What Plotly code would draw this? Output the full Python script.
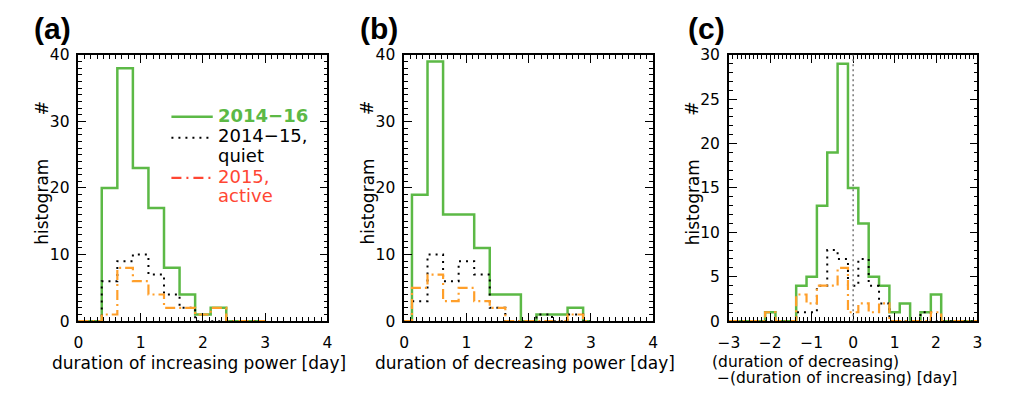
import plotly.graph_objects as go

# ---------------- data ----------------
x_ab = [0, 0.25, 0.5, 0.75, 1.0, 1.25, 1.5, 1.75, 2.0, 2.25, 2.5, 2.75, 3.0]
green_a = [0, 0, 20, 38, 23, 17, 8, 4, 1, 2, 0, 0, 0]
black_a = [0, 0, 6, 9, 10, 7, 4, 2, 0, 0, 0, 0, 0]
orange_a = [0, 0, 1, 8, 6, 4, 2, 2, 1, 2, 0, 0, 0]

green_b = [0, 19, 39, 16, 16, 11, 4, 4, 0, 1, 1, 2, 0]
black_b = [0, 3, 10, 6, 9, 7, 2, 0, 0, 1, 0, 1, 0]
orange_b = [0, 5, 7, 3, 5, 3, 2, 0, 0, 0, 0, 1, 0]

x_c = [-3, -2.75, -2.5, -2.25, -2, -1.75, -1.5, -1.25, -1, -0.75, -0.5, -0.25, 0,
       0.25, 0.5, 0.75, 1, 1.25, 1.5, 1.75, 2, 2.25, 2.5, 2.75, 3]
green_c = [0, 0, 0, 0, 1, 0, 0, 4, 5, 13, 19, 29, 15, 11, 5, 4, 1, 2, 0, 1, 3, 0, 0, 0, 0]
black_c = [0, 0, 0, 0, 0, 0, 0, 1, 1, 4, 8, 7, 4, 7, 4, 2, 0, 0, 0, 1, 0, 0, 0, 0, 0]
orange_c = [0, 0, 0, 0, 1, 0, 0, 3, 2, 4, 4, 6, 1, 2, 1, 2, 0, 0, 0, 0, 1, 0, 0, 0, 0]

series_names = ["2014\u221216", "2014\u221215, quiet", "2015, active"]
panel_labels = ["(a)", "(b)", "(c)"]
xtitles = ["duration of increasing power [day]", "duration of decreasing power [day]"]
xtitle_c = ["(duration of decreasing)", "\u2212(duration of increasing) [day]"]

x_ranges = [[0, 4], [0, 4], [-3, 3]]
y_ranges = [[0, 40], [0, 40], [0, 30]]
y_major = [10, 10, 5]

# ---------------- style ----------------
W, H = 1010, 396
GREEN = "#5cb946"
ORANGE = "#ff9f2a"
RED = "#ff4633"
FONT = "DejaVu Sans"

def px(x):
    return x / W

def py(y):
    return 1 - y / H

frames = [(68.5, 321.5), (399.5, 652.5), (729.4, 982.0)]
ytop, ybot = 48.0, 327.0

fig = go.Figure()

panels = [
    (x_ab, green_a, black_a, orange_a, "x", "y"),
    (x_ab, green_b, black_b, orange_b, "x2", "y2"),
    (x_c, green_c, black_c, orange_c, "x3", "y3"),
]
for xs, g, k, o, xa, ya in panels:
    fig.add_trace(go.Scatter(x=xs, y=g, mode="lines", line=dict(color=GREEN, width=2.5, shape="hvh"),
                             xaxis=xa, yaxis=ya, showlegend=False, name=series_names[0]))
    fig.add_trace(go.Scatter(x=xs, y=k, mode="lines", line=dict(color="black", width=2, shape="hvh", dash="2px,5px"),
                             xaxis=xa, yaxis=ya, showlegend=False, name=series_names[1]))
    fig.add_trace(go.Scatter(x=xs, y=o, mode="lines", line=dict(color=ORANGE, width=2.2, shape="hvh", dash="10px,4px,2px,4px"),
                             xaxis=xa, yaxis=ya, showlegend=False, name=series_names[2]))

axes = {}
for i in range(3):
    l, r = frames[i]
    xn = "" if i == 0 else str(i + 1)
    axes["xaxis" + xn] = dict(domain=[px(l), px(r)], range=x_ranges[i], anchor="y" + xn,
                              showline=True, linecolor="black", linewidth=1.5, mirror="allticks",
                              ticks="inside", ticklen=8, tickcolor="black", tickwidth=1.2, dtick=1, tick0=0,
                              minor=dict(ticks="inside", ticklen=4, dtick=0.1, tick0=0, tickcolor="black",
                                         tickwidth=1.1, showgrid=False),
                              showgrid=False, zeroline=False,
                              tickfont=dict(family=FONT, size=15.5, color="black"), ticklabelstandoff=7)
    axes["yaxis" + xn] = dict(domain=[py(ybot), py(ytop)], range=y_ranges[i], anchor="x" + xn,
                              showline=True, linecolor="black", linewidth=1.5, mirror="allticks",
                              ticks="inside", ticklen=8, tickcolor="black", tickwidth=1.2, dtick=y_major[i], tick0=0,
                              minor=dict(ticks="inside", ticklen=4, dtick=1, tick0=0, tickcolor="black",
                                         tickwidth=1.1, showgrid=False),
                              showgrid=False, zeroline=False,
                              tickfont=dict(family=FONT, size=15.5, color="black"), ticklabelstandoff=4)

fig.update_layout(width=W, height=H, margin=dict(l=0, r=0, t=0, b=0),
                  paper_bgcolor="white", plot_bgcolor="white", showlegend=False, **axes)

ann = []
for i, cx in enumerate([42, 374, 707]):
    ann.append(dict(x=px(cx), y=py(20), xref="paper", yref="paper", text="<b>%s</b>" % panel_labels[i],
                    showarrow=False, font=dict(family="Liberation Sans", size=30, color="black"),
                    xanchor="center", yanchor="middle"))
for i in range(3):
    l = frames[i][0]
    ann.append(dict(x=px(l - 37), y=py(202), xref="paper", yref="paper", text="histogram", textangle=-90,
                    showarrow=False, font=dict(family=FONT, size=17, color="black"),
                    xanchor="center", yanchor="middle"))
    ann.append(dict(x=px(l - 37), y=py(104), xref="paper", yref="paper", text="#", textangle=-90,
                    showarrow=False, font=dict(family=FONT, size=17, color="black"),
                    xanchor="center", yanchor="middle"))
ann.append(dict(x=px(191), y=py(371), xref="paper", yref="paper", text=xtitles[0], showarrow=False,
                font=dict(family=FONT, size=17, color="black"), xanchor="center", yanchor="middle"))
ann.append(dict(x=px(522), y=py(371), xref="paper", yref="paper", text=xtitles[1], showarrow=False,
                font=dict(family=FONT, size=17, color="black"), xanchor="center", yanchor="middle"))
ann.append(dict(x=px(711), y=py(369.5), xref="paper", yref="paper", text=xtitle_c[0], showarrow=False,
                font=dict(family=FONT, size=15.5, color="black"), xanchor="left", yanchor="middle", borderpad=0))
ann.append(dict(x=px(716), y=py(387), xref="paper", yref="paper", text=xtitle_c[1], showarrow=False,
                font=dict(family=FONT, size=15.5, color="black"), xanchor="left", yanchor="middle", borderpad=0))
LX = 208
ann.append(dict(x=px(LX), y=py(112), xref="paper", yref="paper", text="<b>2014\u221216</b>", showarrow=False,
                font=dict(family=FONT, size=18, color=GREEN), xanchor="left", yanchor="middle"))
ann.append(dict(x=px(LX), y=py(133), xref="paper", yref="paper", text="2014\u221215,", showarrow=False,
                font=dict(family=FONT, size=18, color="black"), xanchor="left", yanchor="middle"))
ann.append(dict(x=px(LX), y=py(153), xref="paper", yref="paper", text="quiet", showarrow=False,
                font=dict(family=FONT, size=18, color="black"), xanchor="left", yanchor="middle"))
ann.append(dict(x=px(LX), y=py(175), xref="paper", yref="paper", text="2015,", showarrow=False,
                font=dict(family=FONT, size=18, color=RED), xanchor="left", yanchor="middle"))
ann.append(dict(x=px(LX), y=py(195), xref="paper", yref="paper", text="active", showarrow=False,
                font=dict(family=FONT, size=18, color=RED), xanchor="left", yanchor="middle"))

shapes = [
    dict(type="line", xref="paper", yref="paper", x0=px(163), x1=px(205), y0=py(113), y1=py(113),
         line=dict(color=GREEN, width=2.5)),
    dict(type="line", xref="paper", yref="paper", x0=px(163), x1=px(203), y0=py(135), y1=py(135),
         line=dict(color="black", width=2, dash="2px,5px")),
    dict(type="line", xref="paper", yref="paper", x0=px(163), x1=px(205), y0=py(177), y1=py(177),
         line=dict(color=RED, width=2.2, dash="10px,5px,2px,5px")),
    dict(type="line", xref="x3", yref="y3 domain", x0=0, x1=0, y0=0, y1=1,
         line=dict(color="#777777", width=1.5, dash="2px,3px")),
]

fig.update_layout(annotations=ann, shapes=shapes)
fig.write_html("out.html")
